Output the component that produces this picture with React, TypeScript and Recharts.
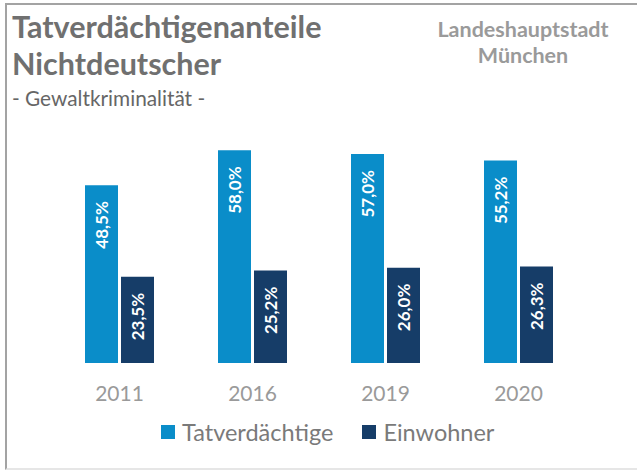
import React from 'react';
import { BarChart, Bar, XAxis, YAxis, LabelList } from 'recharts';

const years = ['2011', '2016', '2019', '2020'];
const tatverdaechtige = [48.5, 58.0, 57.0, 55.2];
const einwohner = [23.5, 25.2, 26.0, 26.3];
const seriesNames = ['Tatverdächtige', 'Einwohner'];
const seriesColors = ['#0A8DC9', '#163D68'];

const data = years.map((y, i) => ({ year: y, tv: tatverdaechtige[i], ew: einwohner[i] }));

const FONT = 'Lato, "Noto Sans", sans-serif';

const fmt = (v: number) => v.toFixed(1).replace('.', ',') + '%';

const BarLabel = (props: any) => {
  const { x, y, width, value } = props;
  const cx = Number(x) + Number(width) / 2;
  const cy = Number(y) + 16;
  return (
    <text
      x={cx}
      y={cy}
      transform={`rotate(-90 ${cx} ${cy})`}
      textAnchor="end"
      dominantBaseline="central"
      fill="#ffffff"
      fontFamily={FONT}
      fontWeight={700}
      fontSize={17}
    >
      {fmt(Number(value))}
    </text>
  );
};

const YearTick = (props: any) => {
  const { x, y, payload } = props;
  return (
    <text x={x} y={y} dy={30} textAnchor="middle" fill="#9a9a9a" fontFamily={FONT} fontSize={21}>
      {payload.value}
    </text>
  );
};

export default function App() {
  return (
    <div style={{ position: 'absolute', left: 0, top: 0, width: 637, height: 470, overflow: 'hidden', background: '#fff', fontFamily: FONT }}>
      <div style={{ position: 'absolute', left: 12, top: 8, color: '#707070', fontWeight: 700, fontSize: 30.5, lineHeight: '37px', whiteSpace: 'nowrap' }}>
        Tatverdächtigenanteile
        <br />
        Nichtdeutscher
      </div>
      <div style={{ position: 'absolute', left: 12, top: 86, color: '#666', fontSize: 20.8, lineHeight: '24px', whiteSpace: 'nowrap' }}>
        - Gewaltkriminalität -
      </div>
      <div style={{ position: 'absolute', left: 398, top: 16, width: 250, textAlign: 'center', color: '#9a9a9a', fontWeight: 700, fontSize: 21.5, lineHeight: '26px' }}>
        Landeshauptstadt
        <br />
        München
      </div>
      <div style={{ position: 'absolute', left: 0, top: 0 }}>
        <BarChart
          width={637}
          height={470}
          data={data}
          margin={{ top: 143, right: 52, left: 53, bottom: 77 }}
          barSize={33}
          barGap={3}
          barCategoryGap={0}
        >
          <XAxis dataKey="year" axisLine={false} tickLine={false} tick={<YearTick />} interval={0} height={30} />
          <YAxis hide domain={[0, 60]} />
          <Bar dataKey="tv" fill={seriesColors[0]} isAnimationActive={false}>
            <LabelList dataKey="tv" content={<BarLabel />} />
          </Bar>
          <Bar dataKey="ew" fill={seriesColors[1]} isAnimationActive={false}>
            <LabelList dataKey="ew" content={<BarLabel />} />
          </Bar>
        </BarChart>
      </div>
      <div style={{ position: 'absolute', left: 161, top: 417, display: 'flex', alignItems: 'center', color: '#7a7a7a', fontSize: 23.5, lineHeight: '30px', whiteSpace: 'nowrap' }}>
        {seriesNames.map((n, i) => (
          <div key={n} style={{ display: 'flex', alignItems: 'center', marginRight: 29 }}>
            <div style={{ width: 14, height: 14, background: seriesColors[i], marginRight: 7 }} />
            <span>{n}</span>
          </div>
        ))}
      </div>
      <div style={{ position: 'absolute', left: 5, top: 3, width: 700, height: 463, borderTop: '2px solid #a3a3a3', borderLeft: '2px solid #a3a3a3', borderBottom: '2px solid #e6e6e6', pointerEvents: 'none' }} />
    </div>
  );
}
